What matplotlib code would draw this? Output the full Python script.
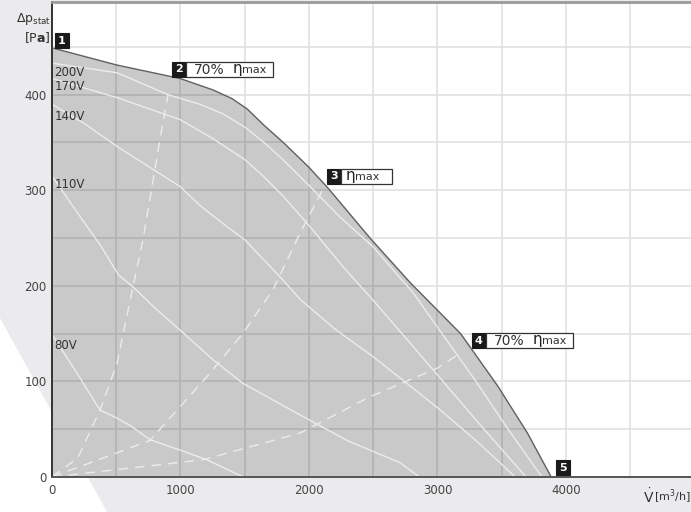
import numpy as np
import matplotlib
matplotlib.use("Agg")
import matplotlib.pyplot as plt
from matplotlib.patches import Rectangle, Polygon
from matplotlib.transforms import ScaledTranslation
from matplotlib.ticker import MultipleLocator, FixedLocator

# ---- data: fan characteristic (flow m3/h, static pressure Pa) ----
env_q = [0, 506, 996, 1253, 1400, 1520, 1650, 1800, 2000, 2150, 2475, 2790, 2996, 3180, 3470, 3700, 3885]
env_p = [449, 431, 417, 405, 396, 385, 368, 350, 324, 302, 250, 203, 175, 150, 95, 46, 0]

v200_q = [0, 506, 903, 1152, 1330, 1502, 1650, 1798, 2008, 2241, 2498, 2809, 3035, 3300, 3549, 3813]
v200_p = [433, 423, 400, 390, 380, 366, 350, 332, 304, 272, 241, 193, 150, 100, 50, 0]

v170_q = [0, 506, 996, 1253, 1502, 1650, 1798, 2008, 2265, 2498, 2724, 3043, 3362, 3690]
v170_p = [417, 397, 374, 354, 332, 314, 294, 262, 220, 185, 150, 100, 50, 0]

v140_q = [0, 250, 506, 750, 996, 1152, 1362, 1502, 1798, 1930, 2200, 2498, 2996, 3300, 3486, 3605]
v140_p = [390, 370, 346, 325, 304, 284, 262, 248, 206, 186, 155, 126, 73, 38, 15, 0]

v110_q = [0, 200, 374, 520, 630, 800, 1019, 1250, 1486, 1930, 2300, 2708, 2860]
v110_p = [315, 276, 243, 211, 199, 177, 151, 123, 98, 65, 38, 15, 0]

v80_q = [0, 179, 374, 500, 607, 763, 1000, 1206, 1490]
v80_p = [149, 112, 70, 62, 54, 39, 28, 18, 0]

eta70_low_q = [0, 200, 374, 506, 630, 708, 840, 903]
eta70_low_p = [0, 20, 70, 119, 199, 248, 353, 400]

eta_max_q = [0, 760, 1206, 1490, 1720, 1930, 2120]
eta_max_p = [0, 38, 105, 151, 196, 255, 304]

eta70_high_q = [0, 1175, 1930, 2475, 3000, 3160]
eta70_high_p = [0, 18, 46, 84, 114, 128]

curve_labels = ["200V", "170V", "140V", "110V", "80V"]
label_p = [423, 409, 377, 306, 138]

xticks = [0, 1000, 2000, 3000, 4000]
yticks = [0, 100, 200, 300, 400]

# operating points marked with numbered boxes: (q, p, number, text)
points = [
    (23, 449, "1", None),
    (934, 419, "2", "70%"),
    (2140, 307, "3", ""),
    (3268, 135, "4", "70%"),
    (3922, 2, "5", None),
]

W, H = 691, 512
fig = plt.figure(figsize=(W / 100, H / 100), dpi=100)
fig.patch.set_facecolor("#ebebed")

# page background with the white wedge in the lower-left corner
bg = fig.add_axes([0, 0, 1, 1], zorder=-5)
bg.set_xlim(0, 1)
bg.set_ylim(0, 1)
bg.axis("off")
bg.add_patch(Polygon([[0, 0], [0, 1 - 318 / H], [107 / W, 0]], closed=True,
                     facecolor="white", edgecolor="none"))

ax = fig.add_axes([52 / W, (H - 477) / H, (W - 52) / W, 475 / H], zorder=1)
ax.set_facecolor("white")
ax.set_xlim(0, 4973)
ax.set_ylim(0, 497)

ax.xaxis.set_major_locator(FixedLocator(xticks))
ax.yaxis.set_major_locator(FixedLocator(yticks))
ax.xaxis.set_minor_locator(MultipleLocator(500))
ax.yaxis.set_minor_locator(MultipleLocator(50))
ax.grid(True, which="both", color="#e2e2e2", lw=1.2, zorder=0)
ax.set_axisbelow(True)
ax.tick_params(which="both", length=0)
ax.tick_params(axis="both", labelsize=8.5, labelcolor="#444444")
ax.tick_params(axis="y", pad=4)
ax.tick_params(axis="x", pad=5)

ax.spines["right"].set_visible(False)
ax.spines["top"].set_color("#9a9a9a")
ax.spines["top"].set_linewidth(2)
ax.spines["left"].set_color("#333333")
ax.spines["left"].set_linewidth(1.4)
ax.spines["bottom"].set_color("#555555")
ax.spines["bottom"].set_linewidth(1.4)

# working area under the maximum curve
ax.fill_between(env_q, env_p, 0, color="black", alpha=0.21, lw=0, zorder=1)
ax.plot(env_q, env_p, color="#606060", lw=1.0, zorder=3)

for q, p in [(v200_q, v200_p), (v170_q, v170_p), (v140_q, v140_p),
             (v110_q, v110_p), (v80_q, v80_p)]:
    ax.plot(q, p, color="#ececec", lw=1.0, zorder=2)

for q, p in [(eta70_low_q, eta70_low_p), (eta_max_q, eta_max_p),
             (eta70_high_q, eta70_high_p)]:
    ax.plot(q, p, color="#ececec", lw=1.0, dashes=(7, 5), zorder=2)

for lab, p in zip(curve_labels, label_p):
    ax.text(20, p, lab, fontsize=8.5, color="#333333", va="center", ha="left", zorder=4)

# numbered markers
for q, p, num, txt in points:
    tr = fig.dpi_scale_trans + ScaledTranslation(q, p, ax.transData)
    ax.add_patch(Rectangle((0, 0), 0.14, 0.15, transform=tr, facecolor="#1a1a1a",
                           edgecolor="#1a1a1a", lw=0.8, zorder=6, clip_on=False))
    ax.text(0.07, 0.072, num, transform=tr, color="white", fontsize=8,
            fontweight="bold", ha="center", va="center", zorder=7, clip_on=False)
    if txt is None:
        continue
    wbox = 0.87 if txt else 0.51
    ax.add_patch(Rectangle((0.14, 0), wbox, 0.15, transform=tr, facecolor="white",
                           edgecolor="#333333", lw=0.9, zorder=6, clip_on=False))
    xoff = 0.19
    if txt:
        ax.text(0.22, 0.07, txt, transform=tr, color="#333333", fontsize=10,
                ha="left", va="center", zorder=7, clip_on=False)
        xoff = 0.61
    ax.text(xoff, 0.085, "η", transform=tr, color="#222222", fontsize=11,
            ha="left", va="center", zorder=7, clip_on=False)
    ax.text(xoff + 0.09, 0.07, "max", transform=tr, color="#333333", fontsize=8,
            ha="left", va="center", zorder=7, clip_on=False)

# axis titles
fig.text(51 / W, 1 - 19 / H, r"$\Delta$p$_{\mathrm{stat}}$", fontsize=9,
         color="#333333", ha="right", va="center", zorder=10)
fig.text(51 / W, 1 - 38 / H, r"[P$\mathbf{a}$]", fontsize=9,
         color="#333333", ha="right", va="center", zorder=10)
fig.text(643 / W, 1 - 497 / H, r"$\dot{\mathrm{V}}$", fontsize=10,
         color="#333333", ha="left", va="center", zorder=10)
fig.text(654 / W, 1 - 497 / H, r"[m$^{3}$/h]", fontsize=8,
         color="#333333", ha="left", va="center", zorder=10)

fig.savefig("out.png", dpi=100, facecolor=fig.get_facecolor())
